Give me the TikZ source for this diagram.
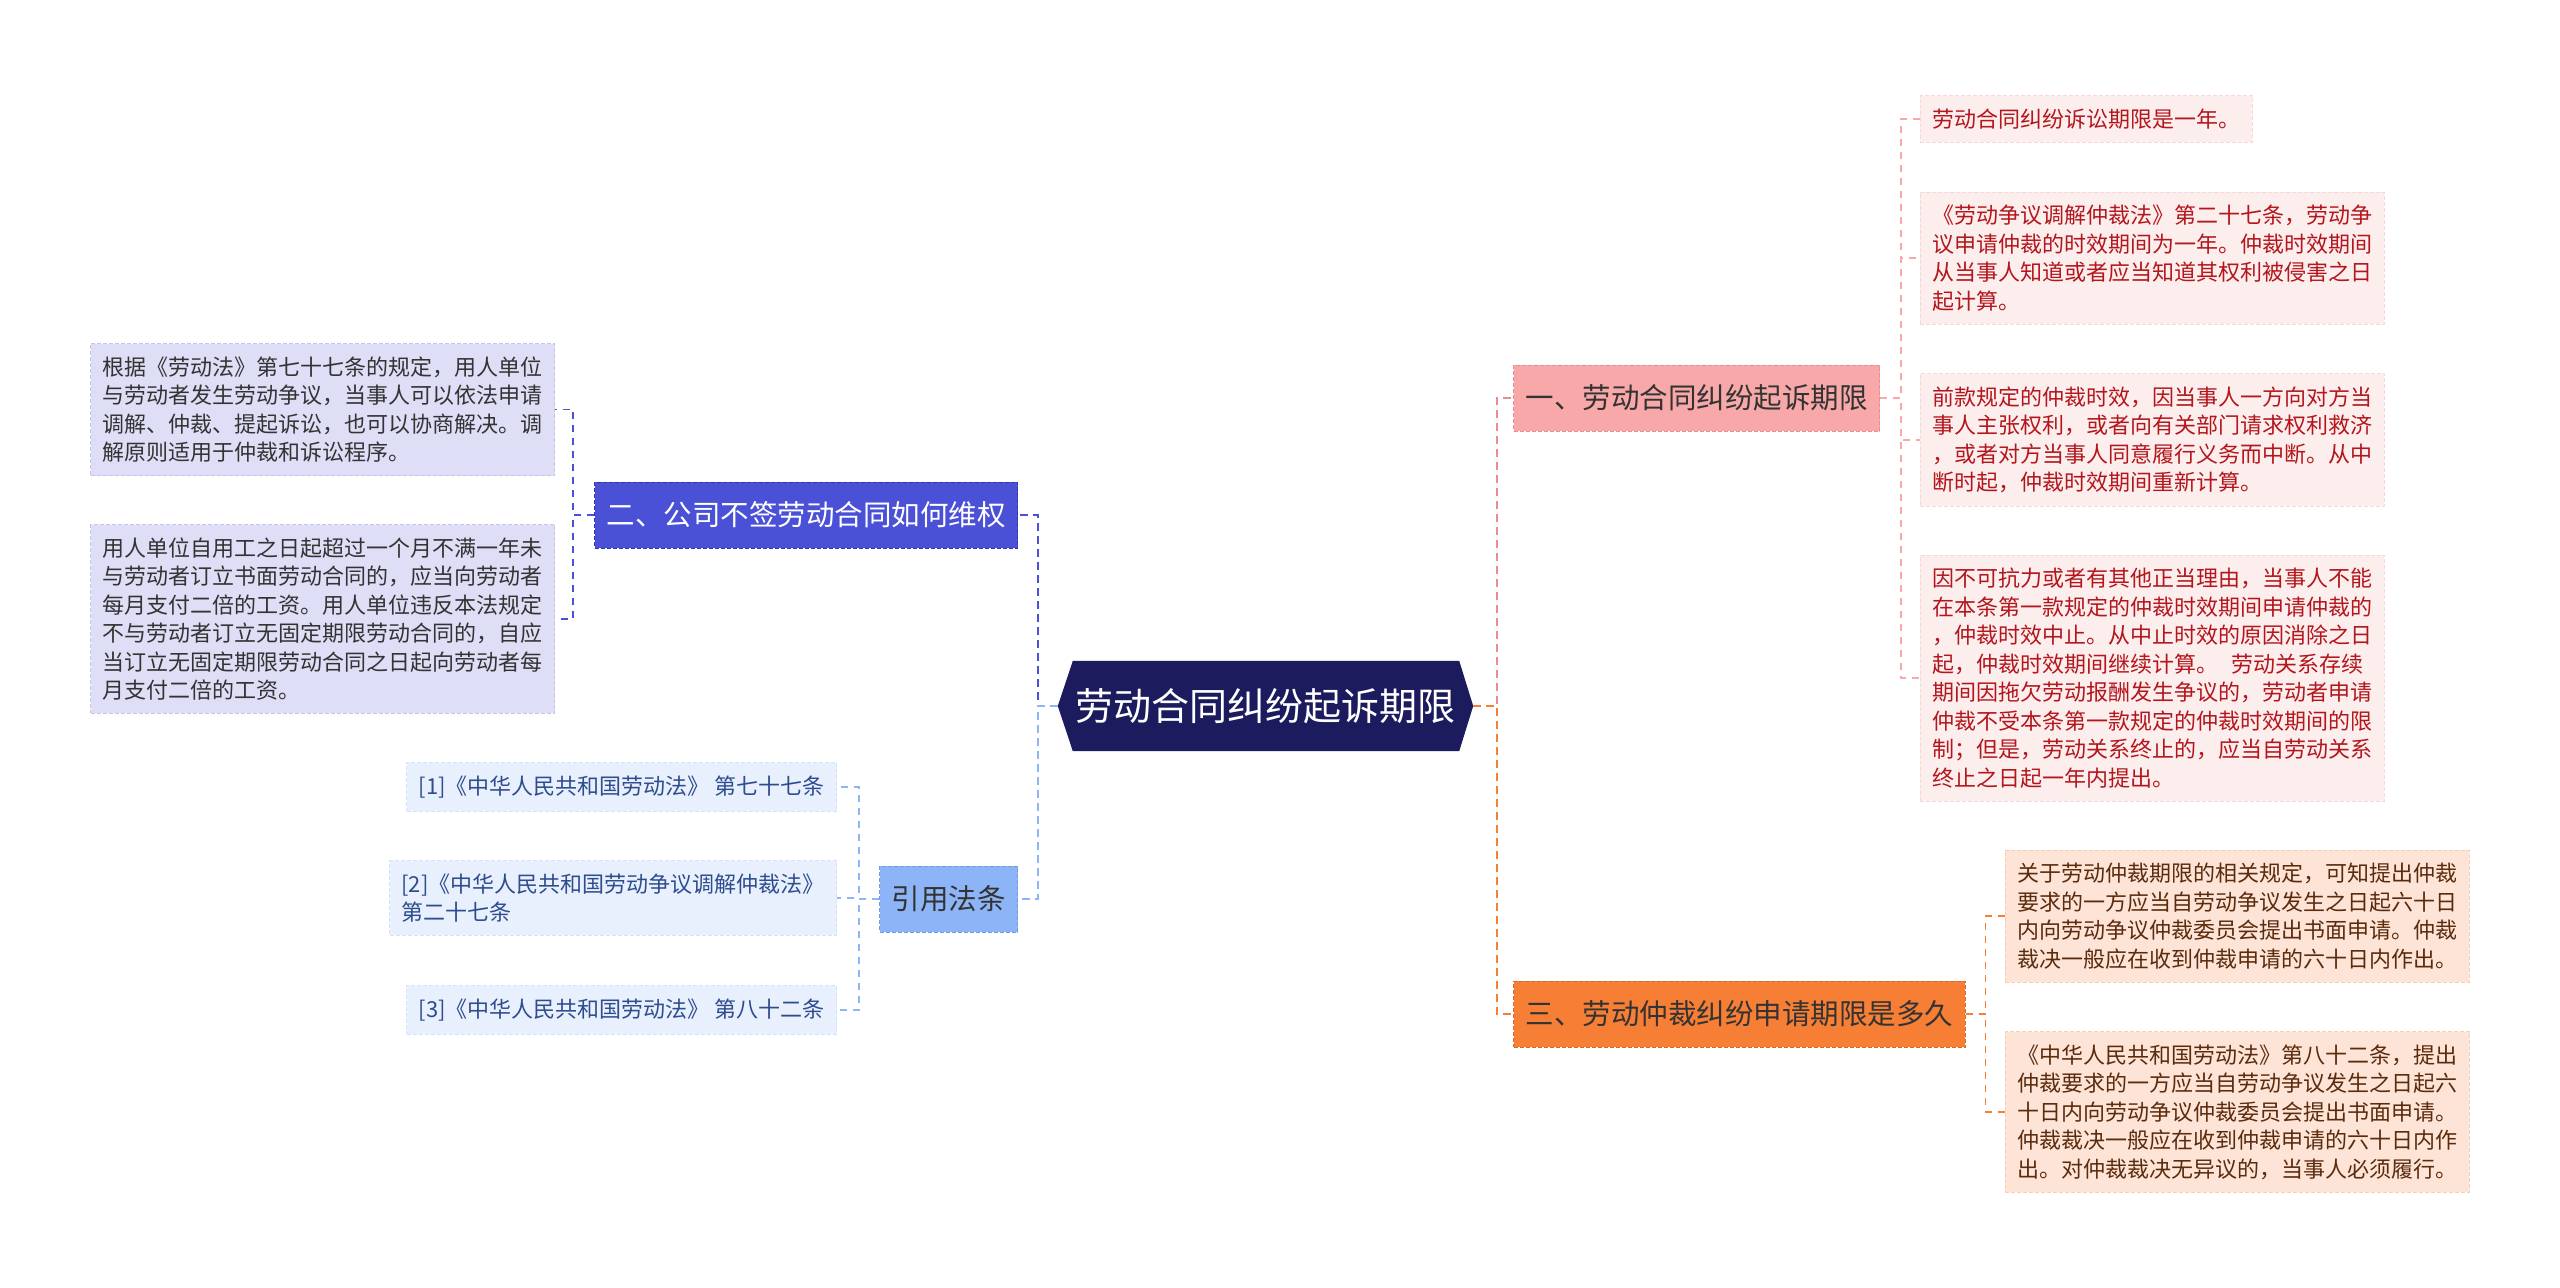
\documentclass[tikz,border=0pt]{standalone}
\usepackage{fontspec}
\newfontfamily\cjk{Noto Sans CJK SC}
\usetikzlibrary{backgrounds}

\definecolor{rootfill}{HTML}{1C1B5E}
\definecolor{onefill}{HTML}{F8A8A8}
\definecolor{onedraw}{HTML}{E88E8E}
\definecolor{twofill}{HTML}{4A51D6}
\definecolor{twodraw}{HTML}{2F36AE}
\definecolor{threefill}{HTML}{F77E35}
\definecolor{threedraw}{HTML}{D9682A}
\definecolor{citefill}{HTML}{8DB4F7}
\definecolor{citedraw}{HTML}{6F9BE8}
\definecolor{lilac}{HTML}{DEDEF7}
\definecolor{lilacdraw}{HTML}{C3C4EE}
\definecolor{skyfill}{HTML}{E8F0FD}
\definecolor{skydraw}{HTML}{D3E1FA}
\definecolor{skytext}{HTML}{2E4C8E}
\definecolor{rosefill}{HTML}{FDEEEE}
\definecolor{rosedraw}{HTML}{F6D8D8}
\definecolor{rosetext}{HTML}{B3161C}
\definecolor{peachfill}{HTML}{FDE4D6}
\definecolor{peachdraw}{HTML}{F6CDB5}
\definecolor{peachtext}{HTML}{5B2B0E}
\definecolor{darktext}{HTML}{333333}

\begin{document}
\begin{tikzpicture}[x=1pt,y=-1pt,
        main/.style={draw,dash pattern=on 4pt off 2pt,line width=1pt,
            font=\cjk\fontsize{28.5}{34}\selectfont,text height=24pt,text depth=2.5pt,
            minimum height=66pt,inner xsep=12pt,inner ysep=0pt},
        leaf/.style={draw,dash pattern=on 4pt off 2pt,line width=0.8pt,
            font=\cjk\fontsize{22}{28.5}\selectfont,align=left,inner xsep=12pt,inner ysep=13pt},
        branch/.style={line width=2pt,dash pattern=on 8pt off 5pt},
        twig/.style={line width=1.3pt,dash pattern=on 7pt off 6pt}]

    % frame
    \useasboundingbox (0,0) rectangle (2560,1288);

    % root
    \node[font=\cjk\fontsize{38}{44}\selectfont,text=white,text height=32pt,text depth=3.2pt,
        minimum width=415pt,minimum height=90pt,inner sep=0pt] (root) at (1265.5,706) {劳动合同纠纷起诉期限};
    \begin{scope}[on background layer]
        \fill[white] (0,0) rectangle (2560,1288);
        \fill[rootfill] (root.west) -- ([xshift=15pt]root.north west) -- ([xshift=-14pt]root.north east)
            -- (root.east) -- ([xshift=-14pt]root.south east) -- ([xshift=15pt]root.south west) -- cycle;
    \end{scope}

    % main branches
    \node[main,fill=onefill,draw=onedraw,text=darktext,anchor=west] (one) at (1513,398) {一、劳动合同纠纷起诉期限};
    \node[main,fill=twofill,draw=twodraw,text=white,anchor=east] (two) at (1018,515) {二、公司不签劳动合同如何维权};
    \node[main,fill=threefill,draw=threedraw,text=darktext,anchor=west] (three) at (1513,1014) {三、劳动仲裁纠纷申请期限是多久};
    \node[main,fill=citefill,draw=citedraw,text=darktext,anchor=east] (cite) at (1018,899) {引用法条};

    \draw[branch,onedraw] (root.east) -- ++(24,0) |- (one.west);
    \draw[branch,threefill] (root.east) -- ++(24,0) |- (three.west);
    \draw[branch,twofill] (root.west) -- ++(-20,0) |- (two.east);
    \draw[branch,citefill] (root.west) -- ++(-20,0) |- (cite.east);

    % branch one
    \node[leaf,fill=rosefill,draw=rosedraw,text=rosetext,anchor=west] (one1) at (1920,119) {劳动合同纠纷诉讼期限是一年。};
    \node[leaf,fill=rosefill,draw=rosedraw,text=rosetext,anchor=west] (one2) at (1920,258) {《劳动争议调解仲裁法》第二十七条，劳动争\\议申请仲裁的时效期间为一年。仲裁时效期间\\从当事人知道或者应当知道其权利被侵害之日\\起计算。};
    \node[leaf,fill=rosefill,draw=rosedraw,text=rosetext,anchor=west] (one3) at (1920,440) {前款规定的仲裁时效，因当事人一方向对方当\\事人主张权利，或者向有关部门请求权利救济\\，或者对方当事人同意履行义务而中断。从中\\断时起，仲裁时效期间重新计算。};
    \node[leaf,fill=rosefill,draw=rosedraw,text=rosetext,anchor=west] (one4) at (1920,678) {因不可抗力或者有其他正当理由，当事人不能\\在本条第一款规定的仲裁时效期间申请仲裁的\\，仲裁时效中止。从中止时效的原因消除之日\\起，仲裁时效期间继续计算。\hspace{0.6em}劳动关系存续\\期间因拖欠劳动报酬发生争议的，劳动者申请\\仲裁不受本条第一款规定的仲裁时效期间的限\\制；但是，劳动关系终止的，应当自劳动关系\\终止之日起一年内提出。};
    \foreach \leafname in {one1,one2,one3,one4}{
            \draw[twig,onefill] (one.east) -- ++(21,0) |- (\leafname.west);
        }

    % branch two
    \node[leaf,fill=lilac,draw=lilacdraw,text=darktext,anchor=east] (two1) at (555,409.5) {根据《劳动法》第七十七条的规定，用人单位\\与劳动者发生劳动争议，当事人可以依法申请\\调解、仲裁、提起诉讼，也可以协商解决。调\\解原则适用于仲裁和诉讼程序。};
    \node[leaf,fill=lilac,draw=lilacdraw,text=darktext,anchor=east] (two2) at (555,619) {用人单位自用工之日起超过一个月不满一年未\\与劳动者订立书面劳动合同的，应当向劳动者\\每月支付二倍的工资。用人单位违反本法规定\\不与劳动者订立无固定期限劳动合同的，自应\\当订立无固定期限劳动合同之日起向劳动者每\\月支付二倍的工资。};
    \foreach \leafname in {two1,two2}{
            \draw[twig,twofill] (two.west) -- ++(-21,0) |- (\leafname.east);
        }

    % branch three
    \node[leaf,fill=peachfill,draw=peachdraw,text=peachtext,anchor=west] (three1) at (2005,916) {关于劳动仲裁期限的相关规定，可知提出仲裁\\要求的一方应当自劳动争议发生之日起六十日\\内向劳动争议仲裁委员会提出书面申请。仲裁\\裁决一般应在收到仲裁申请的六十日内作出。};
    \node[leaf,fill=peachfill,draw=peachdraw,text=peachtext,anchor=west] (three2) at (2005,1112) {《中华人民共和国劳动法》第八十二条，提出\\仲裁要求的一方应当自劳动争议发生之日起六\\十日内向劳动争议仲裁委员会提出书面申请。\\仲裁裁决一般应在收到仲裁申请的六十日内作\\出。对仲裁裁决无异议的，当事人必须履行。};
    \foreach \leafname in {three1,three2}{
            \draw[twig,threefill] (three.east) -- ++(20,0) |- (\leafname.west);
        }

    % citations
    \node[leaf,fill=skyfill,draw=skydraw,text=skytext,anchor=east] (cite1) at (837,787) {[1]《中华人民共和国劳动法》 第七十七条};
    \node[leaf,fill=skyfill,draw=skydraw,text=skytext,anchor=east] (cite2) at (837,898) {[2]《中华人民共和国劳动争议调解仲裁法》\\第二十七条};
    \node[leaf,fill=skyfill,draw=skydraw,text=skytext,anchor=east] (cite3) at (837,1010) {[3]《中华人民共和国劳动法》 第八十二条};
    \foreach \leafname in {cite1,cite2,cite3}{
            \draw[twig,citefill] (cite.west) -- ++(-20,0) |- (\leafname.east);
        }
\end{tikzpicture}
\end{document}
